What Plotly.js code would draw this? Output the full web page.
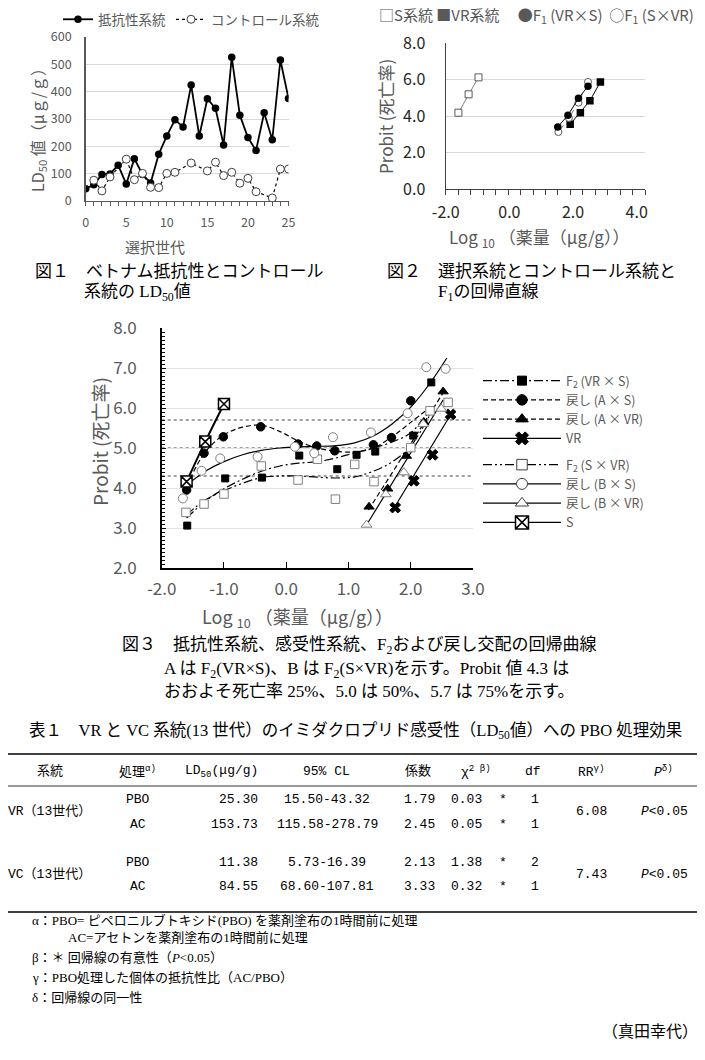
<!DOCTYPE html>
<html><head><meta charset="utf-8">
<script src="https://cdn.plot.ly/plotly-3.0.1.min.js"></script>
<style>body{margin:0;background:#fff}#chart{width:705px;height:1060px}</style>
</head><body><div id="chart"></div>
<script>
// ===== Fig.1 data (LD50 by selection generation)
const fig1Gen = [0,1,2,3,4,5,6,7,8,9,10,11,12,13,14,15,16,17,18,19,20,21,22,23,24,25];
const fig1Resistant = [45,59,97,99,131,62,155,97,66,171,238,297,271,424,238,374,339,205,526,314,232,185,323,224,516,375];
const fig1CtrlGen = [1,2,3,5,6,7,8,9,10,11,13,15,16,17,18,19,20,21,23,24,25];
const fig1Control = [76,37,88,153,78,101,50,49,101,105,139,110,142,93,105,65,83,34,11,117,117];
const fig1Names = ['抵抗性系統','コントロール系統'];

// ===== Fig.2 data (probit lines)
const f2S_x = [-1.60,-1.28,-0.97],      f2S_y = [4.19,5.20,6.13];
const f2VR_x = [1.91,2.23,2.53,2.86],   f2VR_y = [3.55,4.19,4.85,5.88];
const f2F1a_x = [1.52,1.84,2.17,2.47],  f2F1a_y = [3.41,4.05,4.98,5.64];
const f2F1b_x = [1.54,1.87,2.17,2.47],  f2F1b_y = [3.13,3.90,4.74,5.88];
const fig2Names = ['S系統','VR系統','F<sub>1</sub> (VR×S)','F<sub>1</sub> (S×VR)'];
const fig2Symbols = ['□','■','●','○'];

// ===== Fig.3 data (observed points)
const f3F2a_x = [-1.59,-0.98,-0.39,0.21,0.82,1.13,1.43,2.04,2.33];
const f3F2a_y = [3.06,4.24,4.26,4.81,4.47,4.83,4.91,5.31,6.64];
const f3AS_x = [-1.60,-1.32,-1.01,-0.41,0.19,0.49,0.78,1.40,1.69,2.00];
const f3AS_y = [3.95,4.87,5.28,5.53,5.10,5.05,4.93,5.08,5.26,6.18];
const f3AVR_x = [1.33,1.63,1.93,2.21,2.52];
const f3AVR_y = [3.53,3.98,4.80,5.65,6.41];
const f3VR_x = [1.75,2.05,2.35,2.64];
const f3VR_y = [3.51,4.18,4.83,5.84];
const f3F2b_x = [-1.61,-1.32,-1.00,-0.40,0.19,0.50,0.79,1.10,1.41,2.00,2.31,2.60];
const f3F2b_y = [3.39,3.60,3.85,4.55,4.20,4.72,3.72,4.59,4.16,5.01,5.93,6.14];
const f3BS_x = [-1.66,-1.36,-1.06,-0.46,0.14,0.45,0.75,1.36,1.95,2.25,2.56];
const f3BS_y = [3.74,4.43,4.74,4.78,5.03,4.87,5.27,5.39,5.87,7.02,6.98];
const f3BVR_x = [1.29,1.60,1.89,2.20,2.49];
const f3BVR_y = [3.08,3.84,4.39,5.60,5.98];
const f3S_x = [-1.60,-1.30,-1.00];
const f3S_y = [4.16,5.16,6.10];
// Fig.3 fitted curves
const fitGridX = [-1.6,-1.3,-1.0,-0.7,-0.4,-0.1,0.2,0.5,0.8,1.1,1.4,1.7,2.0,2.33];
const fitF2a_y = [3.25,3.67,3.98,4.22,4.42,4.55,4.62,4.66,4.75,4.88,5.00,5.15,5.38,5.98];
const fitAS_y  = [4.05,4.90,5.33,5.52,5.57,5.41,5.17,5.00,4.92,4.90,5.00,5.28,5.64,6.04];
const fitF2b_y = [3.33,3.70,3.93,4.12,4.26,4.30,4.30,4.27,4.25,4.28,4.42,4.65,5.05,5.90];
const fitBS_x = [-1.6,-1.3,-1.0,-0.7,-0.4,-0.1,0.2,0.5,0.8,1.1,1.4,1.7,2.0,2.3,2.58];
const fitBS_y = [4.07,4.42,4.66,4.83,4.94,5.00,5.03,5.04,5.06,5.13,5.30,5.60,6.02,6.60,7.25];
const fitAVR_x = [1.32,2.55], fitAVR_y = [3.45,6.45];
const fitBVR_x = [1.28,2.52], fitBVR_y = [3.05,6.20];
const fitVR_x = [1.72,2.66],  fitVR_y = [3.47,5.88];
const refLevels = [4.3,5.0,5.7];
const fig3Names = ['F<sub>2</sub> (VR × S)','戻し (A × S)','戻し (A × VR)','VR','F<sub>2</sub> (S × VR)','戻し (B × S)','戻し (B × VR)','S'];

// ===== Table 1 data
const tblHeader = ['系統','処理<sup>α)</sup>','LD<sub>50</sub>(μg/g)','95% CL','係数','χ<sup>2 β)</sup>','df','RR<sup>γ)</sup>','<i>P</i><sup>δ)</sup>'];
const tblStrain = ['VR（13世代）','VC（13世代）'];
const tblTreat = ['PBO','AC','PBO','AC'];
const tblLD50 = [25.30,153.73,11.38,84.55];
const tblClLow = [15.50,115.58,5.73,68.60];
const tblClHigh = [43.32,278.79,16.39,107.81];
const tblSlope = [1.79,2.45,2.13,3.33];
const tblChi2 = [0.03,0.05,1.38,0.32];
const tblSig = ['*','*','*','*'];
const tblDf = [1,1,2,1];
const tblRR = [6.08,7.43];
const tblP = ['<i>P</i>&lt;0.05','<i>P</i>&lt;0.05'];
const footnotes = ['α：PBO= ピペロニルブトキシド(PBO) を薬剤塗布の1時間前に処理','AC=アセトンを薬剤塗布の1時間前に処理','β：＊ 回帰線の有意性（<i>P</i>&lt;0.05）','γ：PBO処理した個体の抵抗性比（AC/PBO）','δ：回帰線の同一性'];

// ===== layout helpers
const W = 705, H = 1060;
const px = x => x / W, py = y => 1 - y / H;
const GRAY = '#595959', GRID = '#d9d9d9', DARK = '#262626';
const FIG = '"Noto Sans CJK JP", "Noto Sans", sans-serif';
const CAP = '"Liberation Serif", "Noto Sans CJK JP", serif';
const TBL = '"Liberation Mono", "Noto Sans CJK JP", monospace';
const NB = '\u00a0';

const traces = [];
// Fig 1
traces.push({x: fig1Gen, y: fig1Resistant, name: fig1Names[0], mode: 'lines+markers', xaxis: 'x', yaxis: 'y', legend: 'legend',
  line: {color: '#000', width: 1.8}, marker: {symbol: 'circle', size: 7.5, color: '#000'}});
traces.push({x: fig1CtrlGen, y: fig1Control, name: fig1Names[1], mode: 'lines+markers', xaxis: 'x', yaxis: 'y', legend: 'legend',
  line: {color: '#000', width: 1.2, dash: 'dot'}, marker: {symbol: 'circle', size: 8, color: '#fff', line: {color: '#404040', width: 1}}});
// Fig 2
traces.push({x: f2S_x, y: f2S_y, mode: 'lines+markers', xaxis: 'x2', yaxis: 'y2', showlegend: false,
  line: {color: '#808080', width: 1}, marker: {symbol: 'square', size: 7, color: '#fff', line: {color: '#595959', width: 1}}});
traces.push({x: f2VR_x, y: f2VR_y, mode: 'lines+markers', xaxis: 'x2', yaxis: 'y2', showlegend: false,
  line: {color: '#000', width: 1}, marker: {symbol: 'square', size: 7.5, color: '#000'}});
traces.push({x: f2F1b_x, y: f2F1b_y, mode: 'lines+markers', xaxis: 'x2', yaxis: 'y2', showlegend: false,
  line: {color: '#808080', width: 1, dash: 'dash'}, marker: {symbol: 'circle', size: 7, color: '#fff', line: {color: '#595959', width: 1}}});
traces.push({x: f2F1a_x, y: f2F1a_y, mode: 'lines+markers', xaxis: 'x2', yaxis: 'y2', showlegend: false,
  line: {color: '#000', width: 1}, marker: {symbol: 'circle', size: 7.5, color: '#000'}});

// Fig 3 series style
const f3Series = [
  {name: fig3Names[0], px: f3F2a_x, py: f3F2a_y, fx: fitGridX, fy: fitF2a_y, sym: 'square', size: 7, fill: '#000', lc: '#000', dash: '9px,3px,2px,3px', g: 'g1'},
  {name: fig3Names[1], px: f3AS_x, py: f3AS_y, fx: fitGridX, fy: fitAS_y, sym: 'circle', size: 8.5, fill: '#000', lc: '#000', dash: '5px,3px', g: 'g1'},
  {name: fig3Names[2], px: f3AVR_x, py: f3AVR_y, fx: fitAVR_x, fy: fitAVR_y, sym: 'triangle-up', size: 9, fill: '#000', lc: '#000', dash: '5px,3px', g: 'g1'},
  {name: fig3Names[3], px: f3VR_x, py: f3VR_y, fx: fitVR_x, fy: fitVR_y, sym: 'x', size: 9.5, fill: '#000', lc: '#000', dash: 'solid', g: 'g1'},
  {name: fig3Names[4], px: f3F2b_x, py: f3F2b_y, fx: fitGridX, fy: fitF2b_y, sym: 'square', size: 8.5, fill: '#fff', lc: '#7f7f7f', dash: '9px,3px,2px,3px,2px,3px', g: 'g2'},
  {name: fig3Names[5], px: f3BS_x, py: f3BS_y, fx: fitBS_x, fy: fitBS_y, sym: 'circle', size: 9, fill: '#fff', lc: '#7f7f7f', dash: 'solid', g: 'g2'},
  {name: fig3Names[6], px: f3BVR_x, py: f3BVR_y, fx: fitBVR_x, fy: fitBVR_y, sym: 'triangle-up', size: 9.5, fill: '#fff', lc: '#7f7f7f', dash: 'solid', g: 'g2'},
  {name: fig3Names[7], px: f3S_x, py: f3S_y, fx: f3S_x, fy: f3S_y, sym: 'square-x', size: 11, fill: '#fff', lc: '#000', dash: 'solid', g: 'g2', w: 2}
];
f3Series.forEach(s => {
  traces.push({x: s.fx, y: s.fy, mode: 'lines', xaxis: 'x3', yaxis: 'y3', showlegend: false, hoverinfo: 'skip',
    line: {color: '#000', width: s.w || 1.2, dash: s.dash, shape: 'spline', smoothing: 1}});
});
f3Series.forEach(s => {
  traces.push({x: s.px, y: s.py, mode: 'markers', xaxis: 'x3', yaxis: 'y3', showlegend: false,
    marker: {symbol: s.sym, size: s.size, color: s.fill, line: {color: s.lc, width: s.sym === 'square-x' ? 1.5 : 1}}});
});
f3Series.forEach(s => {
  traces.push({x: [null], y: [null], name: s.name, mode: 'lines+markers', xaxis: 'x3', yaxis: 'y3', legend: 'legend3', legendgroup: s.g,
    line: {color: '#000', width: 1.3, dash: s.dash}, marker: {symbol: s.sym, size: s.size + 2, color: s.fill, line: {color: s.sym === 'square-x' ? '#000' : (s.fill === '#fff' ? '#404040' : '#000'), width: s.sym === 'square-x' ? 1.5 : 1}}});
});

// ===== annotations
const annotations = [];
function txt(text, x, y, o) {
  o = o || {};
  annotations.push({text: text, x: px(x), y: py(y), xref: 'paper', yref: 'paper', showarrow: false,
    xanchor: o.xa || 'left', yanchor: 'middle', textangle: o.angle || 0,
    font: {family: o.family || CAP, size: o.size || 17, color: o.color || '#000'}});
}
// Fig 2 legend (symbol glyphs + names)
const f2Items = fig2Symbols.map((s, i) => s + fig2Names[i]);
txt(f2Items[0] + NB + f2Items[1] + '　' + NB + f2Items[2] + NB + NB + f2Items[3], 377, 15, {family: FIG, size: 15, color: GRAY});
// axis titles
txt('LD<sub>50</sub> 値（μｇ/ｇ）', 38, 126, {xa: 'center', angle: -90, family: FIG, size: 16, color: GRAY});
txt('選択世代', 155, 246, {xa: 'center', family: FIG, size: 15, color: GRAY});
txt('Probit (死亡率)', 385, 117, {xa: 'center', angle: -90, family: FIG, size: 17, color: GRAY});
txt('Log <sub>10</sub> （薬量（μg/g））', 539, 237, {xa: 'center', family: FIG, size: 17, color: GRAY});
txt('Probit (死亡率)', 99, 442, {xa: 'center', angle: -90, family: FIG, size: 19, color: GRAY});
txt('Log <sub>10</sub> （薬量（μg/g））', 297, 617, {xa: 'center', family: FIG, size: 18, color: GRAY});
// captions
txt('図１　ベトナム抵抗性とコントロール', 33, 271);
txt('系統の LD<sub>50</sub>値', 82, 293);
txt('図２　選択系統とコントロール系統と', 385, 271);
txt('F<sub>1</sub>の回帰直線', 436, 293);
txt('図３　抵抗性系統、感受性系統、F<sub>2</sub>および戻し交配の回帰曲線', 120, 646);
txt('A は F<sub>2</sub>(VR×S)、B は F<sub>2</sub>(S×VR)を示す。Probit 値 4.3 は', 162, 670);
txt('おおよそ死亡率 25%、5.0 は 50%、5.7 は 75%を示す。', 162, 691);
txt('表１　VR と VC 系統(13 世代）のイミダクロプリド感受性（LD<sub>50</sub>値）への PBO 処理効果', 27, 731, {size: 16.5});
// table
const TS = 13;
const T = {size: TS, family: TBL};
const headX = [50,137,221,326,418,476,533,591,663];
tblHeader.forEach((h, i) => txt(h, headX[i], 771, Object.assign({xa: 'center'}, T)));
const rowY = [799,824,862,886];
for (let i = 0; i < 4; i++) {
  txt(tblTreat[i], 138, rowY[i], Object.assign({xa: 'center'}, T));
  txt(tblLD50[i].toFixed(2), 260, rowY[i], Object.assign({xa: 'right'}, T));
  txt(tblClLow[i].toFixed(2) + '-' + tblClHigh[i].toFixed(2), 327, rowY[i], Object.assign({xa: 'center'}, T));
  txt(tblSlope[i].toFixed(2), 419, rowY[i], Object.assign({xa: 'center'}, T));
  txt(tblChi2[i].toFixed(2), 467, rowY[i], Object.assign({xa: 'center'}, T));
  txt(tblSig[i], 503, rowY[i], Object.assign({xa: 'center'}, T));
  txt(String(tblDf[i]), 535, rowY[i], Object.assign({xa: 'center'}, T));
}
const grpY = [811,874];
for (let g = 0; g < 2; g++) {
  txt(tblStrain[g], 6, grpY[g], T);
  txt(tblRR[g].toFixed(2), 591, grpY[g], Object.assign({xa: 'center'}, T));
  txt(tblP[g], 664, grpY[g], Object.assign({xa: 'center'}, T));
}
const footX = [30,66,30,30,30], footY = [920,937,957,977,997];
footnotes.forEach((f, i) => txt(f, footX[i], footY[i], {size: 13}));
txt('（真田幸代）', 700, 1031, {xa: 'right', size: 16});

// ===== shapes
const shapes = [];
refLevels.forEach(v => shapes.push({type: 'line', xref: 'x3', yref: 'y3', x0: -2, x1: 3, y0: v, y1: v, line: {color: '#404040', width: 1.2, dash: 'dot'}, layer: 'below'}));
[[754, 1.5], [786, 0.8], [912, 1.5]].forEach(r => shapes.push({type: 'line', xref: 'paper', yref: 'paper', x0: px(8), x1: px(697), y0: py(r[0]), y1: py(r[0]), line: {color: '#000', width: r[1]}}));

const layout = {
  width: W, height: H, margin: {l: 0, r: 0, t: 0, b: 0}, paper_bgcolor: '#fff', plot_bgcolor: 'rgba(0,0,0,0)',
  font: {family: FIG, color: GRAY},
  xaxis: {domain: [px(85.7), px(288.5)], range: [0, 25], anchor: 'y', tickvals: [0,5,10,15,20,25], ticks: 'outside', ticklen: 4, tickcolor: GRAY,
    minor: {dtick: 1, ticks: 'outside', ticklen: 4, tickcolor: GRAY, showgrid: false}, showline: true, linecolor: GRAY, linewidth: 1.2,
    showgrid: false, zeroline: false, tickfont: {size: 12.5, color: GRAY, family: FIG}, ticklabelstandoff: 6},
  yaxis: {domain: [py(201), py(37)], range: [0, 600], anchor: 'x', dtick: 100, ticks: '', showline: true, linecolor: GRAY, linewidth: 1.5,
    showgrid: true, gridcolor: GRID, zeroline: false, tickfont: {size: 12.5, color: GRAY, family: FIG}, ticklabelstandoff: 10},
  xaxis2: {domain: [px(445.7), px(645.3)], range: [-2, 4.27], anchor: 'y2', tickvals: [-2,0,2,4], ticktext: ['-2.0','0.0','2.0','4.0'], ticks: '',
    minor: {tick0: -2, dtick: 6.27/16, ticks: 'outside', ticklen: 5, tickcolor: '#404040', showgrid: false}, showline: true, linecolor: '#404040', linewidth: 1.2,
    showgrid: false, zeroline: false, tickfont: {size: 16, color: DARK, family: FIG}, ticklabelstandoff: 9},
  yaxis2: {domain: [py(189), py(43.3)], range: [0, 8], anchor: 'x2', tickvals: [0,2,4,6,8], ticktext: ['0.0','2.0','4.0','6.0','8.0'], ticks: '',
    showline: true, linecolor: '#404040', linewidth: 1.2, showgrid: true, gridcolor: GRID, zeroline: false,
    tickfont: {size: 16, color: DARK, family: FIG}, ticklabelstandoff: 16},
  xaxis3: {domain: [px(161.7), px(473)], range: [-2, 3], anchor: 'y3', tickvals: [-2,-1,0,1,2,3], ticktext: ['-2.0','-1.0','0.0','1.0','2.0','3.0'],
    ticks: 'inside', ticklen: 6, tickcolor: '#000', showline: true, linecolor: '#000', linewidth: 1.5, showgrid: false, zeroline: false,
    tickfont: {size: 17, color: GRAY, family: FIG}, ticklabelstandoff: 5},
  yaxis3: {domain: [py(568), py(328)], range: [2, 8], anchor: 'x3', tickvals: [2,3,4,5,6,7,8], ticktext: ['2.0','3.0','4.0','5.0','6.0','7.0','8.0'],
    ticks: 'inside', ticklen: 4, tickcolor: '#000', minor: {dtick: 0.1, ticks: 'inside', ticklen: 3, tickcolor: '#000', showgrid: false},
    showline: true, linecolor: '#000', linewidth: 1.5, showgrid: true, gridcolor: '#e3e3e3', zeroline: false,
    tickfont: {size: 17, color: GRAY, family: FIG}, ticklabelstandoff: 20},
  legend: {orientation: 'h', x: px(58), y: py(4), xanchor: 'left', yanchor: 'top', font: {size: 13.5, color: GRAY, family: FIG}, bgcolor: 'rgba(0,0,0,0)'},
  legend3: {orientation: 'v', x: px(478), y: py(366), xanchor: 'left', yanchor: 'top', tracegroupgap: 7, itemwidth: 78,
    font: {size: 12.5, color: GRAY, family: FIG}, bgcolor: 'rgba(0,0,0,0)'},
  annotations: annotations, shapes: shapes
};
Plotly.newPlot('chart', traces, layout, {displayModeBar: false, staticPlot: true});
</script></body></html>
